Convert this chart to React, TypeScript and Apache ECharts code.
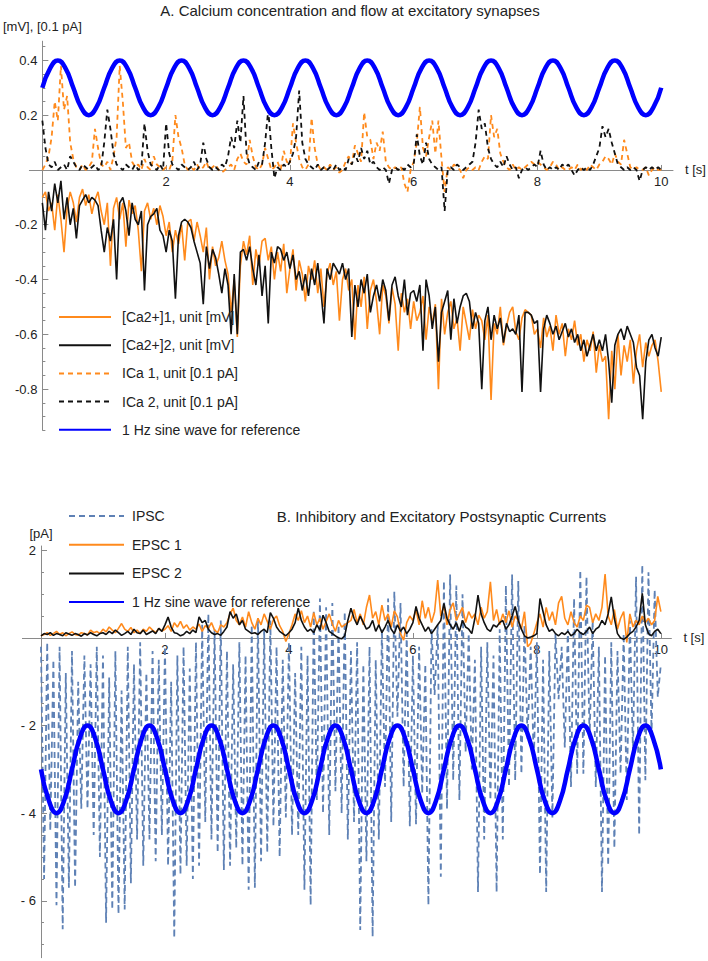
import React, { useEffect, useRef } from 'react';
import * as echarts from 'echarts';

const FONT = '"Liberation Sans", Arial, Helvetica, sans-serif';
const ORANGE = '#ff8a1c';
const BLACK = '#111111';
const BLUE = '#0000ff';
const STEEL = '#5e81b5';
const AXIS = '#8a8a8a';
const TEXT = '#222222';

// sampling steps (s)
const traceStep = 0.05;
const sineStep = 0.125;

// ---------- Panel A ----------
const ca1 = [
  -0.10,-0.08,-0.15,-0.12,-0.22,-0.09,-0.18,-0.30,-0.14,-0.08,-0.12,-0.19,-0.10,-0.07,-0.13,-0.09,-0.16,-0.11,-0.08,-0.15,
  -0.20,-0.12,-0.35,-0.14,-0.10,-0.18,-0.12,-0.28,-0.11,-0.16,-0.13,-0.22,-0.37,-0.15,-0.12,-0.18,-0.14,-0.20,-0.13,-0.17,
  -0.24,-0.19,-0.30,-0.22,-0.27,-0.20,-0.33,-0.19,-0.18,-0.26,-0.19,-0.24,-0.30,-0.21,-0.40,-0.28,-0.35,-0.32,-0.26,-0.33,
  -0.38,-0.52,-0.40,-0.61,-0.35,-0.26,-0.31,-0.24,-0.42,-0.29,-0.35,-0.26,-0.25,-0.33,-0.28,-0.40,-0.30,-0.37,-0.27,-0.45,
  -0.36,-0.29,-0.44,-0.33,-0.38,-0.48,-0.35,-0.40,-0.33,-0.45,-0.36,-0.50,-0.38,-0.34,-0.42,-0.37,-0.55,-0.40,-0.36,-0.44,
  -0.40,-0.62,-0.42,-0.50,-0.39,-0.58,-0.44,-0.40,-0.48,-0.60,-0.42,-0.46,-0.56,-0.43,-0.49,-0.66,-0.45,-0.52,-0.47,-0.58,
  -0.48,-0.55,-0.52,-0.46,-0.62,-0.50,-0.56,-0.49,-0.80,-0.47,-0.60,-0.52,-0.48,-0.58,-0.54,-0.66,-0.50,-0.56,-0.62,-0.51,
  -0.58,-0.53,-0.55,-0.62,-0.53,-0.84,-0.56,-0.60,-0.50,-0.64,-0.57,-0.52,-0.50,-0.59,-0.62,-0.54,-0.51,-0.52,-0.53,-0.60,
  -0.58,-0.65,-0.54,-0.61,-0.57,-0.66,-0.53,-0.60,-0.56,-0.68,-0.58,-0.62,-0.55,-0.64,-0.60,-0.70,-0.62,-0.66,-0.59,-0.74,
  -0.64,-0.70,-0.68,-0.91,-0.66,-0.80,-0.60,-0.75,-0.64,-0.70,-0.62,-0.78,-0.66,-0.60,-0.72,-0.63,-0.68,-0.64,-0.62,-0.70,-0.81,
];

const ca2 = [
  -0.12,-0.22,-0.08,-0.15,-0.05,-0.12,-0.04,-0.18,-0.10,-0.20,-0.14,-0.25,-0.13,-0.11,-0.09,-0.12,-0.10,-0.11,-0.13,-0.22,
  -0.30,-0.21,-0.26,-0.18,-0.40,-0.12,-0.10,-0.15,-0.24,-0.12,-0.18,-0.20,-0.15,-0.44,-0.20,-0.17,-0.16,-0.14,-0.22,-0.24,
  -0.30,-0.22,-0.26,-0.47,-0.24,-0.19,-0.18,-0.19,-0.21,-0.26,-0.30,-0.34,-0.49,-0.28,-0.36,-0.29,-0.32,-0.38,-0.45,-0.36,
  -0.42,-0.60,-0.38,-0.60,-0.30,-0.29,-0.33,-0.28,-0.36,-0.42,-0.31,-0.46,-0.35,-0.56,-0.30,-0.34,-0.28,-0.29,-0.33,-0.30,
  -0.36,-0.31,-0.40,-0.37,-0.44,-0.38,-0.46,-0.36,-0.42,-0.34,-0.44,-0.56,-0.36,-0.40,-0.34,-0.36,-0.38,-0.34,-0.40,-0.36,
  -0.61,-0.42,-0.50,-0.40,-0.45,-0.38,-0.52,-0.46,-0.42,-0.48,-0.40,-0.44,-0.55,-0.42,-0.39,-0.46,-0.50,-0.40,-0.53,-0.45,
  -0.44,-0.48,-0.42,-0.66,-0.40,-0.46,-0.58,-0.50,-0.70,-0.52,-0.48,-0.44,-0.62,-0.47,-0.56,-0.50,-0.46,-0.45,-0.48,-0.58,
  -0.52,-0.56,-0.80,-0.55,-0.50,-0.62,-0.53,-0.58,-0.54,-0.63,-0.56,-0.59,-0.58,-0.60,-0.53,-0.81,-0.52,-0.52,-0.53,-0.56,
  -0.55,-0.81,-0.58,-0.53,-0.56,-0.60,-0.57,-0.62,-0.59,-0.56,-0.61,-0.58,-0.63,-0.60,-0.66,-0.62,-0.68,-0.64,-0.60,-0.66,
  -0.62,-0.66,-0.60,-0.70,-0.85,-0.64,-0.60,-0.58,-0.62,-0.57,-0.60,-0.63,-0.72,-0.75,-0.91,-0.70,-0.62,-0.60,-0.65,-0.68,-0.61,
];

const ica1 = [
  0,0.02,0.05,0.12,0.25,0.18,0.38,0.22,0.27,0.10,0.04,0.01,0,0.02,0,0.01,0.03,0.15,0.08,0.02,
  0.01,0.03,0,0.05,0.12,0.38,0.25,0.08,0.10,0.03,0.01,0.02,0,0.04,0.01,0,0.05,0.02,0.01,0,
  0.01,0,0.03,0.20,0.12,0.08,0.02,0,0.01,0,0.02,0,0.01,0.03,0,0.01,0.02,0,-0.01,0,
  0.01,0.02,0,0.04,0.06,0.03,0.02,0.11,0.05,0.01,0,0.02,0.08,0.04,0,0.01,0.03,0,0.07,0.03,
  0.02,0.17,0.10,0.04,0.01,0,0.02,0.19,0.08,0.02,0,0.01,0,0.02,0,0.01,-0.01,0,0.03,0.05,
  0.02,0.09,0.06,0.03,0.21,0.12,0.11,0.04,0.10,0.07,0.14,0.03,0.01,0,0.01,0,0.01,-0.05,-0.08,0,
  0.03,0.10,0.23,0.08,0.05,0.12,0.18,0.06,0.18,0.04,-0.08,0.01,0,0.02,0.01,0,-0.03,0,0.01,0,
  0.01,0,0.03,0.05,0.04,0.20,0.12,0.15,0.06,0.03,0.01,0,0.02,0,0.01,0,0.01,0.02,0.03,0.02,
  0.03,0.02,0.01,0,0.01,0.03,0.02,0,0.01,0,0,0.01,0,0.02,0,0.01,0,0.02,0.01,0,
  0.02,0.03,0.05,0.04,0.02,0.06,0.03,0.02,0.11,0.06,0.01,0,0.01,0,0,0.01,-0.02,0,0.01,0,0,
];

const ica2 = [
  0.18,0.08,0.02,0.01,0.03,0,0.01,0.02,0,0.05,0.03,0.01,0,0.02,0.01,0,0.01,0.02,0,0.01,
  0.10,0.22,0.15,0.06,0.02,0.01,0,0.02,0.01,0,0.02,0,0.01,0.17,0.07,0.02,0.01,0,0.02,0,
  0.17,0.06,0.02,0.01,0,0.02,0.01,0,0.01,0.03,0,0.02,0.10,0.04,0.01,0,0.01,0,0.02,0.01,
  0.05,0.12,0.08,0.18,0.10,0.27,0.06,0.02,0.01,0,0.03,0.02,0.10,0.22,0.08,-0.03,0.01,0,0.02,0.01,
  0.03,0.06,0.12,0.29,0.10,0.04,0.02,0.01,0,0.02,0,0.01,0,0.01,0,0.02,0,0.01,0,0.04,
  0.02,0.06,0.03,0.08,0.04,0.07,0.02,0.03,0.01,0,0.01,0,-0.05,0,0.01,0,0.01,0,0.02,0.01,
  0.02,0.13,0.05,0.02,0.10,0.04,0.02,0.01,0,0.01,-0.15,0,0.01,0,0.02,0.01,0,0.01,0.02,0.03,
  0.10,0.22,0.15,0.17,0.08,0.04,0.02,0.01,0.03,0.01,0.05,0.02,0,0.01,-0.03,0,0.01,0,0.01,0.02,
  0.01,0.07,0.02,0,0.01,0,0.01,0,0.02,0.01,0.02,0,-0.02,0,0.01,0,0.01,0,0.02,0.05,
  0.08,0.16,0.12,0.15,0.10,0.06,0.02,0.01,0,0.01,0,0.01,0,-0.04,0,0.01,0,0.01,0,0.01,0,
];

const sineA = [
  0.3,0.371,0.4,0.371,0.3,0.229,0.2,0.229,
  0.3,0.371,0.4,0.371,0.3,0.229,0.2,0.229,
  0.3,0.371,0.4,0.371,0.3,0.229,0.2,0.229,
  0.3,0.371,0.4,0.371,0.3,0.229,0.2,0.229,
  0.3,0.371,0.4,0.371,0.3,0.229,0.2,0.229,
  0.3,0.371,0.4,0.371,0.3,0.229,0.2,0.229,
  0.3,0.371,0.4,0.371,0.3,0.229,0.2,0.229,
  0.3,0.371,0.4,0.371,0.3,0.229,0.2,0.229,
  0.3,0.371,0.4,0.371,0.3,0.229,0.2,0.229,
  0.3,0.371,0.4,0.371,0.3,0.229,0.2,0.229,
  0.3,
];

// ---------- Panel B ----------
const ipsc = [
  -0.2,-5.5,-0.1,-4.4,-0.5,-6.1,-0.2,-6.65,-0.8,-5.7,-0.3,-5.7,-1.0,-3.9,-0.4,-3.9,-0.6,-4.5,-0.2,-5.0,
  -0.4,-6.5,-0.9,-6.2,-0.3,-6.3,-1.2,-6.2,-0.2,-5.6,-0.6,-4.6,-0.1,-5.2,-0.8,-4.6,-0.3,-5.1,-0.5,-4.5,
  -0.2,-5.2,-1.0,-6.85,-0.4,-5.4,-0.2,-5.2,-0.7,-5.5,-0.1,-5.2,0.3,-4.2,0.55,-4.6,0.2,-4.9,0.4,-5.3,
  -0.3,-5.2,-0.6,-4.8,-0.1,-5.2,-0.4,-5.75,0.3,-5.7,0.45,-5.1,0.2,-4.9,0.4,-4.3,-0.2,-5.0,-0.5,-4.1,
  -0.1,-4.5,-0.8,-4.5,-0.2,-5.75,-0.4,-6.1,0.6,-3.7,0.9,-4.0,0.7,-4.5,0.8,-3.5,0.3,-4.0,0.6,-4.6,
  -0.3,-4.2,-0.1,-6.67,-0.6,-5.1,-0.2,-6.82,-0.5,-4.6,0.2,-3.4,0.9,-4.2,1.06,-1.8,0.8,-3.4,0.1,-4.3,
  -0.4,-4.25,-0.2,-3.55,-0.6,-6.1,0.2,-1.3,0.3,-5.45,1.3,-3.9,1.45,-3.25,1.2,-3.7,1.0,-2.6,0.1,-3.0,
  -0.5,-5.8,-0.2,-4.6,-0.1,-3.7,-0.4,-5.8,0.2,-4.6,1.2,-3.4,1.45,-3.25,1.3,-3.1,0.3,-2.3,-0.2,-2.8,
  -0.1,-5.4,-0.5,-5.8,-0.3,-4.1,0.1,-1.4,-0.2,-2.5,0.2,-3.4,0.9,-3.1,1.55,-3.1,1.4,-2.3,0.4,-3.4,
  -0.2,-5.8,-0.4,-5.2,-0.1,-4.8,-0.3,-3.1,0.1,-3.7,0.4,-2.6,1.4,-4.5,1.67,-3.25,1.5,-2.2,1.1,-1.35,-0.6,
];

const epsc1 = [
  0.05,0.08,0.12,0.06,0.10,0.15,0.08,0.12,0.05,0.10,0.14,0.08,0.06,0.12,0.10,0.07,0.18,0.12,0.15,0.10,
  0.20,0.14,0.25,0.18,0.12,0.22,0.33,0.20,0.15,0.24,0.12,0.18,0.10,0.20,0.15,0.25,0.18,0.12,0.22,0.16,
  0.20,0.28,0.15,0.35,0.25,0.38,0.22,0.30,0.18,0.25,0.20,0.32,0.15,0.28,0.22,0.35,0.18,0.12,0.30,0.25,
  0.35,0.55,0.68,0.40,0.30,0.48,0.25,0.60,0.35,0.20,0.45,0.30,0.55,0.38,0.20,0.42,0.50,0.28,0.15,-0.08,
  0.10,0.30,0.55,0.40,0.62,0.35,0.50,0.25,0.58,0.30,0.45,0.20,0.38,0.55,0.32,0.15,0.40,0.25,0.30,0.35,
  0.40,0.65,0.35,0.55,0.30,0.70,0.98,0.45,0.60,0.30,0.75,0.40,0.55,0.25,0.62,0.48,0.10,-0.05,0.35,0.50,
  0.40,0.65,0.30,0.85,0.45,0.70,0.35,0.60,1.32,0.50,0.75,0.30,0.65,0.80,0.40,0.55,0.70,0.35,0.60,0.45,
  0.55,0.30,0.70,0.45,0.60,1.28,0.40,0.65,0.30,0.55,0.35,0.62,0.25,0.50,0.40,0.20,0.60,-0.20,-0.12,0.10,
  0.35,0.55,0.25,0.70,0.40,0.60,0.30,0.80,0.95,0.45,0.30,0.60,0.35,0.25,0.50,0.40,0.75,0.70,0.35,0.55,
  0.40,0.70,1.46,0.50,0.30,0.65,0.20,0.45,0.60,-0.10,0.55,0.25,0.40,0.30,0.50,0.35,0.45,0.30,0.40,0.95,0.60,
];

const epsc2 = [
  0.05,0.10,0.08,0.12,0.06,0.10,0.08,0.05,0.12,0.09,0.06,0.10,0.08,0.04,0.10,0.07,0.12,0.08,0.05,0.10,
  0.12,0.08,0.15,0.10,0.18,0.12,0.06,0.10,0.15,0.08,0.20,0.12,0.10,0.18,0.08,0.12,0.16,0.10,0.22,0.15,
  0.30,0.48,0.25,0.12,0.10,0.05,0.08,0.15,0.10,0.18,0.12,0.48,0.35,0.40,0.20,0.12,0.08,0.10,0.06,0.15,
  0.25,0.60,0.45,0.55,0.30,0.40,0.20,0.15,0.10,0.12,0.08,0.15,0.20,0.12,0.58,0.45,0.25,0.15,0.10,0.05,
  0.12,0.20,0.35,0.68,0.40,0.25,0.15,0.20,0.12,0.30,0.18,0.52,0.35,0.15,0.10,0.05,0.00,-0.02,0.05,0.40,
  0.68,0.45,0.30,0.50,0.35,0.20,0.25,0.40,0.15,0.30,0.12,0.25,0.40,0.20,0.10,0.30,0.15,0.25,0.10,0.20,
  0.35,0.72,0.45,0.30,0.15,0.25,0.10,0.20,0.30,0.40,0.79,0.45,0.30,0.20,0.35,0.15,0.40,0.25,0.20,0.10,
  0.45,0.98,0.55,0.35,0.20,0.15,0.30,0.25,0.35,0.40,0.20,0.30,0.50,0.72,0.40,0.20,0.05,0.00,0.02,0.05,
  0.10,0.90,0.60,0.30,0.15,0.20,0.10,0.05,0.12,0.08,0.15,0.05,0.10,0.20,0.12,0.08,0.15,0.25,0.10,0.20,
  0.25,0.40,0.30,0.55,0.94,0.45,0.10,0.00,-0.03,0.02,0.10,0.15,0.25,0.40,1.02,0.30,0.10,0.05,0.15,0.20,0.10,
];

const sineB = [
  -3,-3.707,-4,-3.707,-3,-2.293,-2,-2.293,
  -3,-3.707,-4,-3.707,-3,-2.293,-2,-2.293,
  -3,-3.707,-4,-3.707,-3,-2.293,-2,-2.293,
  -3,-3.707,-4,-3.707,-3,-2.293,-2,-2.293,
  -3,-3.707,-4,-3.707,-3,-2.293,-2,-2.293,
  -3,-3.707,-4,-3.707,-3,-2.293,-2,-2.293,
  -3,-3.707,-4,-3.707,-3,-2.293,-2,-2.293,
  -3,-3.707,-4,-3.707,-3,-2.293,-2,-2.293,
  -3,-3.707,-4,-3.707,-3,-2.293,-2,-2.293,
  -3,-3.707,-4,-3.707,-3,-2.293,-2,-2.293,
  -3,
];

// ---------- ticks ----------
const xTicks = [2, 4, 6, 8, 10];
const yTicksA = [-0.8, -0.6, -0.4, -0.2, 0.2, 0.4];
const yMinorA = [-0.95,-0.9,-0.85,-0.8,-0.75,-0.7,-0.65,-0.6,-0.55,-0.5,-0.45,-0.4,-0.35,-0.3,-0.25,-0.2,-0.15,-0.1,-0.05,0.05,0.1,0.15,0.2,0.25,0.3,0.35,0.4,0.45];
const yTicksB = [-6, -4, -2, 2];
const yMinorB = [-7,-6.5,-6,-5.5,-5,-4.5,-4,-3.5,-3,-2.5,-2,-1.5,-1,-0.5,0.5,1,1.5,2];

const NAMES = {
  ca1: '[Ca2+]1, unit [mV]',
  ca2: '[Ca2+]2, unit [mV]',
  ica1: 'ICa 1, unit [0.1 pA]',
  ica2: 'ICa 2, unit [0.1 pA]',
  sine: '1 Hz sine wave for reference',
  ipsc: 'IPSC',
  epsc1: 'EPSC 1',
  epsc2: 'EPSC 2',
};

// panel geometry (pixels) and axis ranges
const GA = { left: 28, top: 41.2, width: 645, height: 389, xMin: -0.21, xMax: 10.19, yMin: -0.95, yMax: 0.47 };
const GB = { left: 22.4, top: 546, width: 649, height: 411.7, xMin: -0.3, xMax: 10.17, yMin: -7.3, yMax: 2.1 };

const toPairs = (vals: number[], step: number) =>
  vals.map((v, i) => [Math.round(i * step * 1000) / 1000, v]);

function lineSeries(name: string, vals: number[], step: number, grid: number, color: string, width: number, dash?: number[], smooth = false) {
  return {
    name,
    type: 'line',
    xAxisIndex: grid,
    yAxisIndex: grid * 2,
    data: toPairs(vals, step),
    symbol: 'none',
    smooth,
    clip: true,
    itemStyle: { color },
    lineStyle: { color, width, type: dash ? dash : 'solid' },
    emphasis: { disabled: true },
  };
}

// offset (px) that moves an edge axis onto the zero line of the other axis
const xOffset = (g: typeof GA) => -((0 - g.yMin) / (g.yMax - g.yMin)) * g.height;
const yOffset = (g: typeof GA) => -((0 - g.xMin) / (g.xMax - g.xMin)) * g.width;

function makeX(grid: number, g: typeof GA) {
  return {
    gridIndex: grid,
    type: 'value',
    position: 'bottom',
    offset: xOffset(g),
    min: g.xMin,
    max: g.xMax,
    name: 't [s]',
    nameLocation: 'end',
    nameGap: 12,
    nameTextStyle: { color: TEXT, fontSize: 13, fontFamily: FONT },
    axisLine: { show: true, onZero: false, lineStyle: { color: AXIS, width: 1 } },
    axisTick: { show: true, inside: true, length: 5, customValues: xTicks, lineStyle: { color: AXIS } },
    axisLabel: { customValues: xTicks, margin: 5, color: TEXT, fontSize: 13, fontFamily: FONT },
    splitLine: { show: false },
  };
}

function makeYMajor(grid: number, g: typeof GA, ticks: number[], name: string, nameGap: number, fmt: (v: number) => string) {
  return {
    gridIndex: grid,
    type: 'value',
    position: 'left',
    offset: yOffset(g),
    min: g.yMin,
    max: g.yMax,
    name,
    nameLocation: 'end',
    nameGap,
    nameTextStyle: { color: TEXT, fontSize: 13, fontFamily: FONT },
    axisLine: { show: true, onZero: false, lineStyle: { color: AXIS, width: 1 } },
    axisTick: { show: true, inside: true, length: 6, customValues: ticks, lineStyle: { color: AXIS } },
    axisLabel: { customValues: ticks, margin: 5, color: TEXT, fontSize: 13, fontFamily: FONT, formatter: fmt },
    splitLine: { show: false },
  };
}

function makeYMinor(grid: number, g: typeof GA, ticks: number[]) {
  return {
    gridIndex: grid,
    type: 'value',
    position: 'left',
    offset: yOffset(g),
    min: g.yMin,
    max: g.yMax,
    axisLine: { show: false, onZero: false },
    axisTick: { show: true, inside: true, length: 3, customValues: ticks, lineStyle: { color: AXIS } },
    axisLabel: { show: false },
    splitLine: { show: false },
  };
}

const fmtA = (v: number) => v.toFixed(1);
const fmtB = (v: number) => (v < 0 ? '- ' + Math.abs(v) : String(v));

const legendBase = {
  orient: 'vertical',
  itemHeight: 14,
  padding: 0,
  selectedMode: false,
  itemStyle: { opacity: 0, color: 'rgba(0,0,0,0)', borderColor: 'rgba(0,0,0,0)', borderWidth: 0 },
};

export default function App() {
  const ref = useRef<HTMLDivElement>(null);
  useEffect(() => {
    if (!ref.current) return;
    const chart = echarts.init(ref.current, null, { renderer: 'svg' });
    const option: any = {
      animation: false,
      backgroundColor: '#ffffff',
      textStyle: { fontFamily: FONT },
      grid: [
        { left: GA.left, top: GA.top, width: GA.width, height: GA.height },
        { left: GB.left, top: GB.top, width: GB.width, height: GB.height },
      ],
      xAxis: [makeX(0, GA), makeX(1, GB)],
      yAxis: [
        makeYMajor(0, GA, yTicksA, '[mV], [0.1 pA]', 8, fmtA),
        makeYMinor(0, GA, yMinorA),
        makeYMajor(1, GB, yTicksB, '[pA]', 6, fmtB),
        makeYMinor(1, GB, yMinorB),
      ],
      legend: [
        {
          ...legendBase,
          data: [NAMES.ca1, NAMES.ca2, NAMES.ica1, NAMES.ica2, NAMES.sine],
          left: 58,
          top: 310,
          itemWidth: 52,
          itemGap: 14.2,
          textStyle: { color: TEXT, fontSize: 14, fontFamily: FONT, padding: [0, 0, 0, 6] },
        },
        {
          ...legendBase,
          data: [NAMES.ipsc, NAMES.epsc1, NAMES.epsc2, NAMES.sine],
          left: 68,
          top: 509,
          itemWidth: 55,
          itemGap: 14.7,
          textStyle: { color: TEXT, fontSize: 14, fontFamily: FONT, padding: [0, 0, 0, 3] },
        },
      ],
      graphic: [
        {
          type: 'text',
          x: 350,
          y: 10,
          style: {
            text: 'A. Calcium concentration and flow at excitatory synapses',
            font: '15px ' + FONT,
            fill: TEXT,
            align: 'center',
            verticalAlign: 'middle',
            textAlign: 'center',
            textVerticalAlign: 'middle',
          },
        },
        {
          type: 'text',
          x: 441.5,
          y: 516,
          style: {
            text: 'B. Inhibitory and Excitatory Postsynaptic Currents',
            font: '15px ' + FONT,
            fill: TEXT,
            align: 'center',
            verticalAlign: 'middle',
            textAlign: 'center',
            textVerticalAlign: 'middle',
          },
        },
      ],
      series: [
        lineSeries(NAMES.ca1, ca1, traceStep, 0, ORANGE, 1.6),
        lineSeries(NAMES.ca2, ca2, traceStep, 0, BLACK, 1.6),
        lineSeries(NAMES.ica1, ica1, traceStep, 0, ORANGE, 1.8, [5, 4]),
        lineSeries(NAMES.ica2, ica2, traceStep, 0, BLACK, 1.8, [5, 4]),
        lineSeries(NAMES.sine, sineA, sineStep, 0, BLUE, 4.5, undefined, true),
        lineSeries(NAMES.ipsc, ipsc, traceStep, 1, STEEL, 1.8, [6, 4]),
        lineSeries(NAMES.epsc1, epsc1, traceStep, 1, ORANGE, 1.6),
        lineSeries(NAMES.epsc2, epsc2, traceStep, 1, BLACK, 1.6),
        lineSeries(NAMES.sine, sineB, sineStep, 1, BLUE, 4.5, undefined, true),
      ],
    };
    chart.setOption(option);
    return () => chart.dispose();
  }, []);
  return (
    <div
      ref={ref}
      style={{ position: 'absolute', left: 0, top: 0, width: 708, height: 961 }}
    />
  );
}
